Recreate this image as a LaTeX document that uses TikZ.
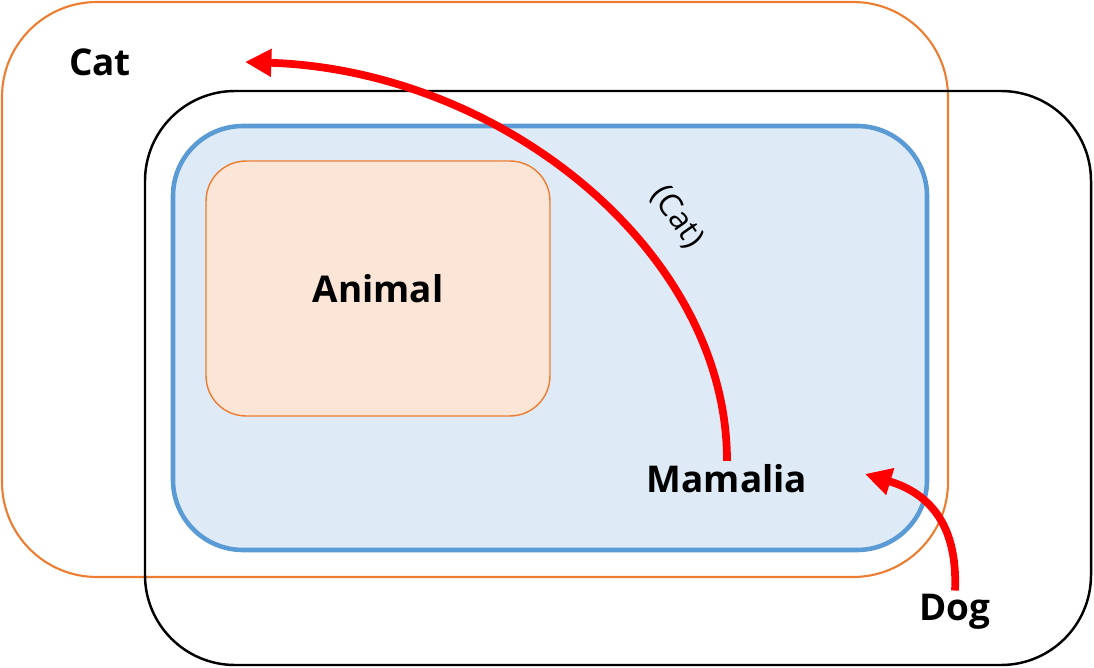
\documentclass[tikz,border=0pt]{standalone}
\usepackage{fontspec}
\setmainfont{Open Sans}
\usetikzlibrary{arrows.meta}
\definecolor{setorange}{HTML}{ED7D31}
\definecolor{setblue}{HTML}{5B9BD5}
\definecolor{setbluefill}{HTML}{DEEAF6}
\definecolor{setpeach}{HTML}{FBE5D6}
\definecolor{arrowred}{HTML}{FF0000}
\tikzset{
    setlabel/.style={font=\bfseries\fontsize{21}{26}\selectfont, inner sep=2pt},
    inherit/.style={draw=arrowred, line width=4.4pt, -{Triangle[length=15pt, width=15pt]}}
}
\begin{document}
\begin{tikzpicture}[x=0.02cm, y=-0.02cm]
        \useasboundingbox (0,0) rectangle (1094,668);

        % Draw the nested sets
        \draw[setorange, line width=1.2pt, rounded corners=1.9cm] (2,2) rectangle (948,577);
        \draw[black, line width=1.4pt, rounded corners=1.8cm] (145,91) rectangle (1091,665);
        \draw[setblue, fill=setbluefill, line width=2.6pt, rounded corners=1.4cm] (173,126) rectangle (927,550);
        \node[setlabel, draw=setorange, fill=setpeach, line width=0.8pt, rounded corners=0.8cm,
              minimum width=6.88cm, minimum height=5.1cm] (animal) at (378,288.5) {Animal};

        % Add the set labels
        \node[setlabel] (cat) at (100,62) {Cat};
        \node[setlabel] (mamalia) at (727,479) {Mamalia};
        \node[setlabel] (dog) at (955,612) {Dog};

        % Arrow ends
        \coordinate (catend) at (245,62);
        \coordinate (mamend) at (865,474);

        % Draw the arrows
        \draw[inherit] (mamalia.north) .. controls (727,250) and (500,70) .. (catend);
        \draw[inherit] (dog.north) .. controls (958,520) and (925,492) .. (mamend);

        % Arrow label
        \node[rotate=-55, font=\fontsize{18}{22}\selectfont] (catnote) at (677,217) {(Cat)};
    \end{tikzpicture}
\end{document}
